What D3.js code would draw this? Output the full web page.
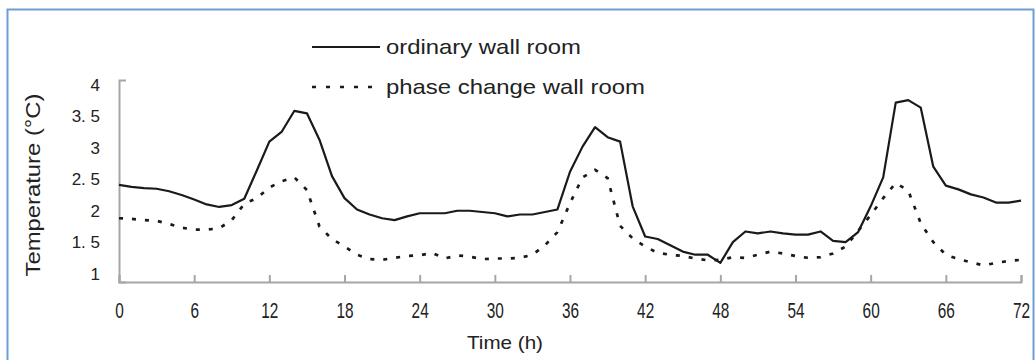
<!DOCTYPE html>
<html>
<head>
<meta charset="utf-8">
<script src="https://cdn.jsdelivr.net/npm/d3@7"></script>
<style>
  html, body { margin: 0; padding: 0; background: #fff; }
  svg { display: block; }
  .axis path, .axis line { stroke: #a6a6a6; stroke-width: 2; }
  .axis text { fill: #222; }
</style>
</head>
<body>
<svg id="chart" width="1036" height="360"></svg>
<script>
// Hourly indoor temperature over three days (°C)
const hours = d3.range(0, 73);
const ordinaryWall = [
  2.41, 2.38, 2.36, 2.35, 2.31, 2.25, 2.18, 2.10, 2.06, 2.09,
  2.19, 2.64, 3.10, 3.26, 3.59, 3.55, 3.13, 2.55, 2.20, 2.02,
  1.94, 1.88, 1.85, 1.91, 1.96, 1.96, 1.96, 2.00, 2.00, 1.98,
  1.96, 1.91, 1.94, 1.94, 1.98, 2.02, 2.62, 3.02, 3.33, 3.17,
  3.10, 2.07, 1.59, 1.55, 1.45, 1.35, 1.30, 1.30, 1.17, 1.50,
  1.67, 1.64, 1.67, 1.64, 1.62, 1.62, 1.67, 1.52, 1.50, 1.66,
  2.07, 2.53, 3.72, 3.76, 3.64, 2.70, 2.40, 2.34, 2.26, 2.21,
  2.13, 2.13, 2.16
];
const phaseChangeWall = [
  1.88, 1.87, 1.85, 1.84, 1.79, 1.73, 1.70, 1.70, 1.72, 1.85,
  2.11, 2.20, 2.37, 2.47, 2.53, 2.33, 1.75, 1.55, 1.43, 1.30,
  1.23, 1.22, 1.25, 1.28, 1.29, 1.33, 1.24, 1.29, 1.27, 1.23,
  1.24, 1.24, 1.25, 1.30, 1.45, 1.66, 2.12, 2.53, 2.65, 2.52,
  1.76, 1.56, 1.43, 1.33, 1.30, 1.28, 1.24, 1.21, 1.22, 1.26,
  1.25, 1.30, 1.35, 1.32, 1.28, 1.25, 1.26, 1.32, 1.43, 1.68,
  1.93, 2.20, 2.44, 2.32, 1.80, 1.50, 1.30, 1.23, 1.18, 1.13,
  1.17, 1.20, 1.22
];
const xTicks = [0, 6, 12, 18, 24, 30, 36, 42, 48, 54, 60, 66, 72];
const yTicks = [1, 1.5, 2, 2.5, 3, 3.5, 4];
const yTickLabels = ["1", "1. 5", "2", "2. 5", "3", "3. 5", "4"];
const seriesNames = ["ordinary wall room", "phase change wall room"];

const svg = d3.select("#chart");
const font = "'Liberation Sans', Arial, sans-serif";

// outer frame
svg.append("rect")
  .attr("x", 7.5).attr("y", 9.5)
  .attr("width", 1026).attr("height", 360)
  .attr("fill", "none")
  .attr("stroke", "#6c9fd6")
  .attr("stroke-width", 2);

const x = d3.scaleLinear().domain([0, 72]).range([119, 1021]);
const y = d3.scaleLinear().domain([0.866, 4.08]).range([282, 80]);

// x axis with inward ticks; labels drawn tall and narrow
const xAxis = svg.append("g")
  .attr("class", "axis")
  .attr("transform", `translate(0,${y.range()[0]})`)
  .call(d3.axisBottom(x).tickValues(xTicks).tickSizeInner(-7).tickSizeOuter(-7).tickPadding(20));
xAxis.selectAll("text")
  .attr("font-family", font)
  .attr("font-size", 22)
  .attr("transform", "scale(0.7,1)");

// y axis
const yAxis = svg.append("g")
  .attr("class", "axis")
  .attr("transform", `translate(${x.range()[0]},0)`)
  .call(d3.axisLeft(y).tickValues(yTicks).tickFormat((d, i) => yTickLabels[i])
    .tickSizeInner(0).tickSizeOuter(-7).tickPadding(19));
yAxis.selectAll("text")
  .attr("font-family", font)
  .attr("font-size", 17);
yAxis.selectAll(".tick line").remove();

// axis titles
svg.append("text")
  .attr("x", 505)
  .attr("y", 342)
  .attr("dy", "0.35em")
  .attr("text-anchor", "middle")
  .attr("font-family", font)
  .attr("font-size", 19)
  .attr("textLength", 76)
  .attr("lengthAdjust", "spacingAndGlyphs")
  .attr("fill", "#222")
  .text("Time (h)");

svg.append("text")
  .attr("transform", "translate(33,185) rotate(-90)")
  .attr("dy", "0.35em")
  .attr("text-anchor", "middle")
  .attr("font-family", font)
  .attr("font-size", 21)
  .attr("textLength", 183)
  .attr("lengthAdjust", "spacingAndGlyphs")
  .attr("fill", "#222")
  .text("Temperature (°C)");

// series lines
const line = d3.line().x((d, i) => x(hours[i])).y(d => y(d));

svg.append("path")
  .datum(ordinaryWall)
  .attr("d", line)
  .attr("fill", "none")
  .attr("stroke", "#1a1a1a")
  .attr("stroke-width", 2.2)
  .attr("stroke-linejoin", "round");

svg.append("path")
  .datum(phaseChangeWall)
  .attr("d", line)
  .attr("fill", "none")
  .attr("stroke", "#1a1a1a")
  .attr("stroke-width", 2.7)
  .attr("stroke-dasharray", "4,9");

// legend
const legend = svg.append("g");
const legendRows = [
  { name: seriesNames[0], y: 47, x2: 380, dash: null, sw: 2.2, len: 195 },
  { name: seriesNames[1], y: 87, x2: 374, dash: "4,10", sw: 2.7, len: 259 }
];
legendRows.forEach(r => {
  legend.append("line")
    .attr("x1", 312).attr("x2", r.x2)
    .attr("y1", r.y).attr("y2", r.y)
    .attr("stroke", "#1a1a1a")
    .attr("stroke-width", r.sw)
    .attr("stroke-dasharray", r.dash);
  legend.append("text")
    .attr("x", 386).attr("y", r.y)
    .attr("dy", "0.35em")
    .attr("font-family", font)
    .attr("font-size", 21)
    .attr("textLength", r.len)
    .attr("lengthAdjust", "spacingAndGlyphs")
    .attr("fill", "#222")
    .text(r.name);
});
</script>
</body>
</html>
